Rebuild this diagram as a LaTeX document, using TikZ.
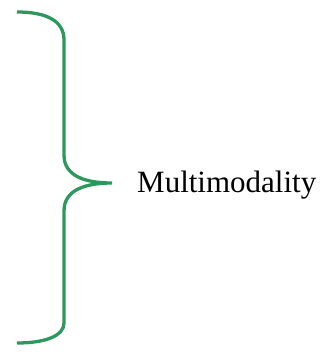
\documentclass[tikz,border=0pt]{standalone}
\usepackage{fontspec}
\setmainfont{Liberation Serif}
\definecolor{bracegreen}{RGB}{44,152,94}
\begin{document}
\begin{tikzpicture}[x=1pt,y=-1pt,
  bracestyle/.style={draw=bracegreen,line width=3.3pt,line cap=butt},
  labelstyle/.style={font=\fontsize{31}{37}\selectfont,inner sep=0pt,anchor=base west}]
\useasboundingbox (0,0) rectangle (323,354);
\coordinate (top) at (17,12);
\coordinate (tip) at (112,183);
\coordinate (bot) at (17,354-11);
\draw[bracestyle] (top) .. controls (45,12) and (64,20) .. (64,40)
  -- (64,155) .. controls (64,176) and (85,183) .. (tip)
  .. controls (85,183) and (64,190) .. (64,211)
  -- (64,323) .. controls (64,336) and (45,343) .. (bot);
\node[labelstyle] (label) at (137,192) {Multimodality};
\end{tikzpicture}
\end{document}
